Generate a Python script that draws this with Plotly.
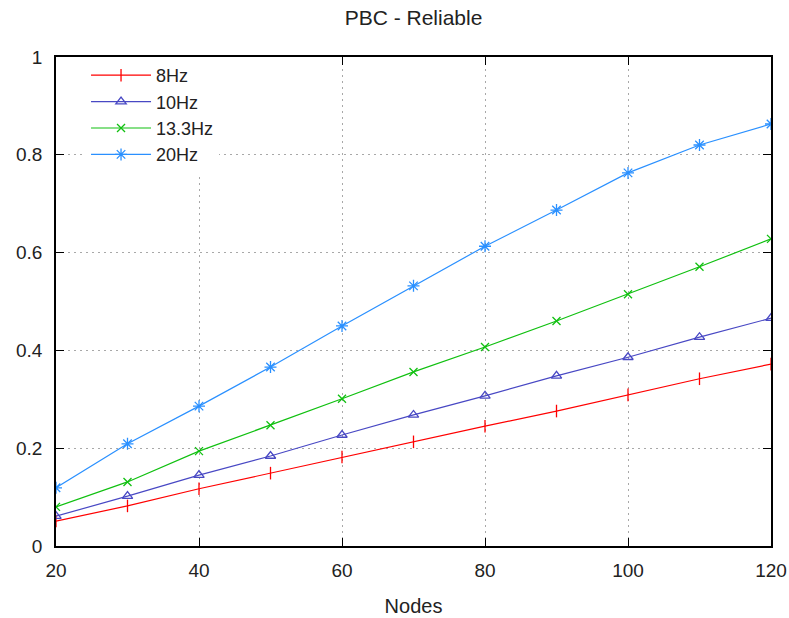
import plotly.graph_objects as go

nodes = [20, 30, 40, 50, 60, 70, 80, 90, 100, 110, 120]
hz8 = [0.051, 0.082, 0.117, 0.149, 0.182, 0.213, 0.245, 0.276, 0.309, 0.342, 0.372]
hz10 = [0.061, 0.102, 0.145, 0.184, 0.227, 0.268, 0.307, 0.348, 0.386, 0.427, 0.466]
hz13 = [0.080, 0.131, 0.194, 0.247, 0.301, 0.356, 0.407, 0.460, 0.515, 0.571, 0.628]
hz20 = [0.119, 0.209, 0.286, 0.366, 0.450, 0.532, 0.613, 0.687, 0.763, 0.820, 0.863]
x_ticks = [20, 40, 60, 80, 100, 120]
y_ticks = [0, 0.2, 0.4, 0.6, 0.8, 1]

series = [
    ("8Hz", hz8, "#ff0000", "line-ns-open", 9),
    ("10Hz", hz10, "#4848c4", "triangle-up-open", 9),
    ("13.3Hz", hz13, "#10c010", "x-thin-open", 8),
    ("20Hz", hz20, "#2a90ff", "asterisk-open", 10),
]

font = "Liberation Sans, Arial, sans-serif"
fig = go.Figure()
for name, ys, col, sym, sz in series:
    fig.add_trace(go.Scatter(
        x=nodes, y=ys, name=name, mode="lines+markers",
        line=dict(color=col, width=1.2),
        marker=dict(symbol=sym, size=sz, color=col, line=dict(color=col, width=1.3)),
    ))

axis_common = dict(
    showline=True, linecolor="black", linewidth=1.5, mirror="ticks",
    ticks="inside", ticklen=8, tickcolor="black", tickwidth=1,
    showgrid=True, gridcolor="#a8a8a8", griddash="2px,4px", gridwidth=1,
    zeroline=False, automargin=False,
    tickfont=dict(size=19, color="#222", family=font),
)
fig.update_xaxes(range=[20, 120], tickvals=x_ticks, ticklabelstandoff=6,
                 title=dict(text="Nodes", font=dict(size=20, color="#222", family=font), standoff=19),
                 **axis_common)
fig.update_yaxes(range=[0, 1], tickvals=y_ticks, ticklabelstandoff=8,
                 **axis_common)
fig.update_layout(
    width=789, height=618,
    margin=dict(l=56, r=18, t=57, b=72, autoexpand=False),
    paper_bgcolor="white", plot_bgcolor="white",
    title=dict(text="PBC - Reliable", xref="paper", x=0.5, xanchor="center",
               yref="container", y=1 - 18 / 618, yanchor="middle",
               font=dict(size=21, color="#222", family=font)),
    font=dict(family=font, color="#222"),
    legend=dict(x=0.042, y=1.0, xanchor="left", yanchor="top",
                bgcolor="white", borderwidth=0, itemwidth=60,
                font=dict(size=18, color="#222", family=font), tracegroupgap=0),
    showlegend=True,
)
fig.write_html("out.html", config={"displayModeBar": False},
               post_script="document.body.style.margin='0px';")
